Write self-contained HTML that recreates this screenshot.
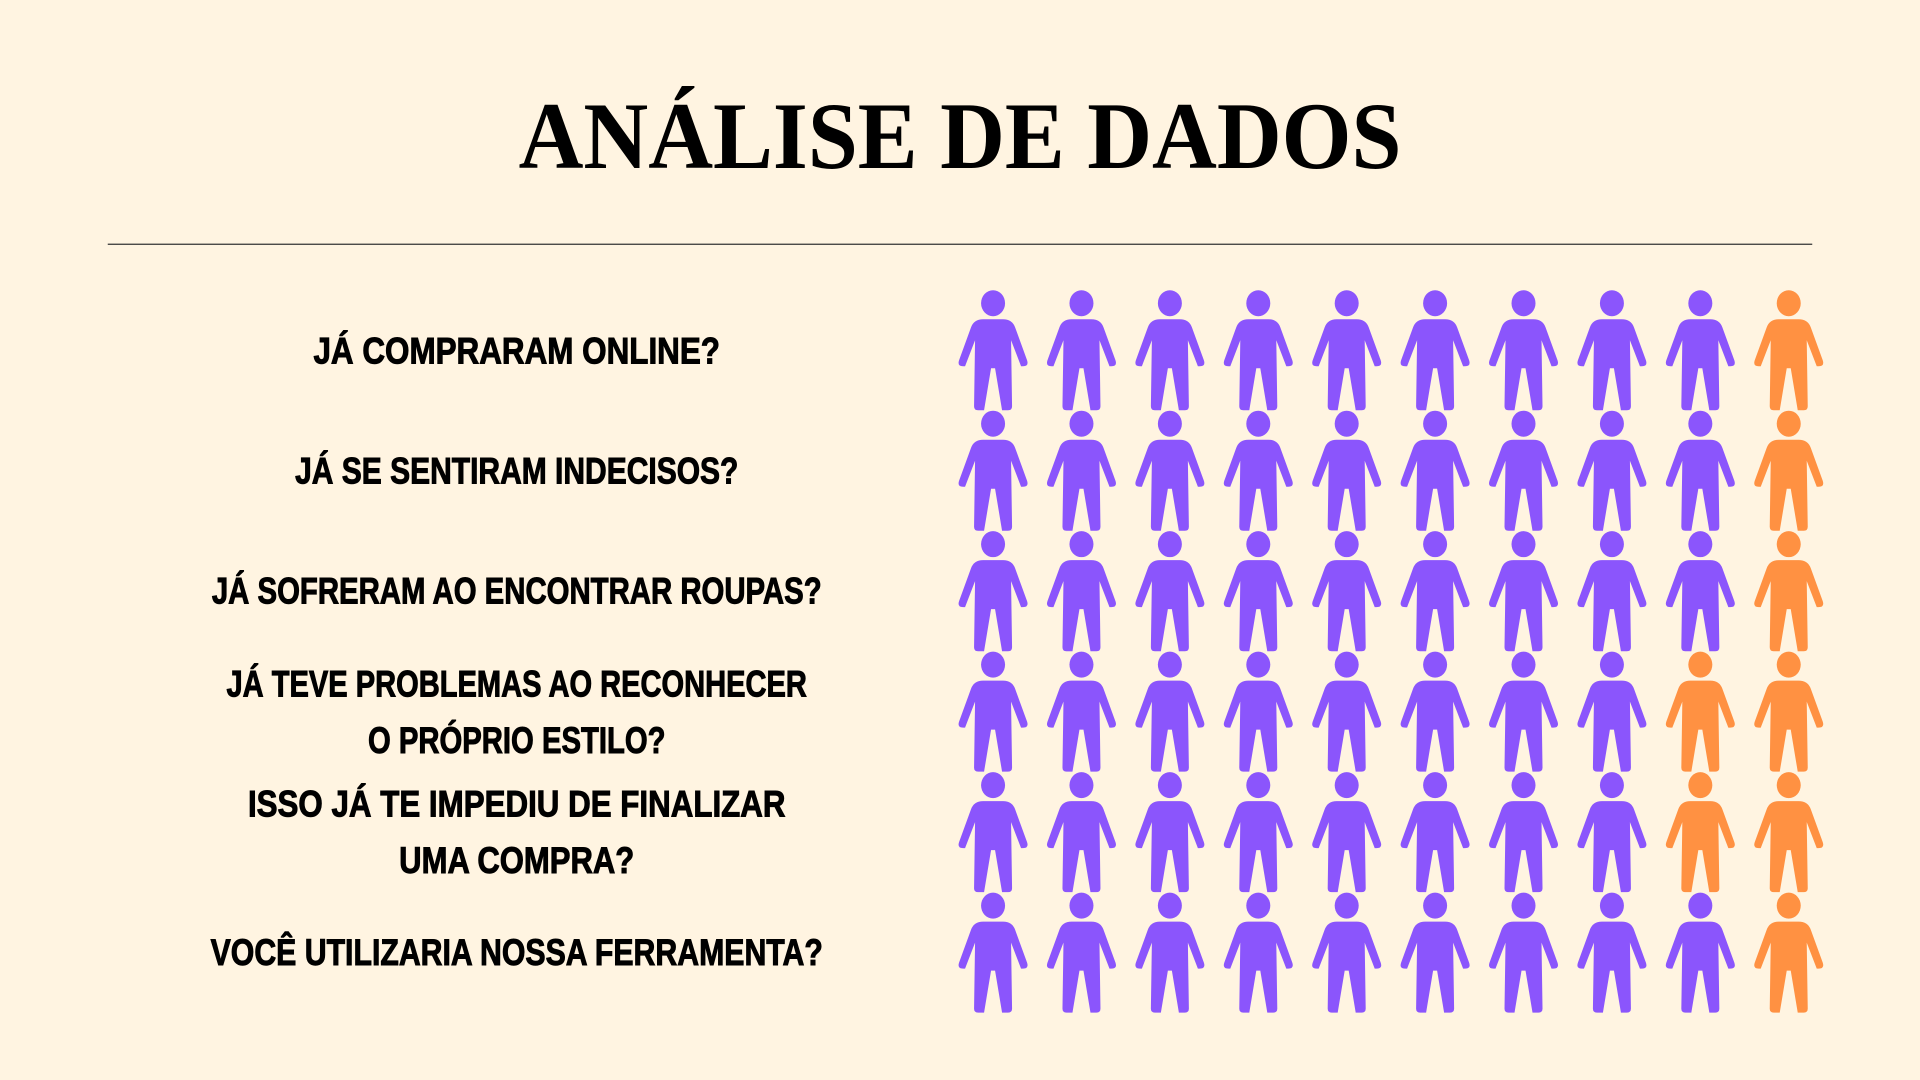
<!DOCTYPE html>
<html><head><meta charset="utf-8"><style>
html,body{margin:0;padding:0;background:#fff4e1;}
svg{display:block;}
</style></head><body>
<svg id="chart" width="1920" height="1080" viewBox="0 0 1568 882" preserveAspectRatio="none" xmlns="http://www.w3.org/2000/svg">
<rect width="1568" height="882" fill="#fff4e1"/>
<text x="784" y="137" text-anchor="middle" font-family="'Liberation Serif',serif" font-weight="bold" font-size="78" textLength="721" lengthAdjust="spacingAndGlyphs" fill="#000">ANÁLISE DE DADOS</text>
<line x1="88" y1="199.5" x2="1480" y2="199.5" stroke="#333" stroke-width="1"/>
<g id="labels" font-family="'Liberation Sans',sans-serif" font-weight="bold" font-size="30" fill="#000" stroke="#000" stroke-width="0.8"></g>
<g id="icons"></g>
</svg>
<script>
const questions = ["JÁ COMPRARAM ONLINE?","JÁ SE SENTIRAM INDECISOS?","JÁ SOFRERAM AO ENCONTRAR ROUPAS?","JÁ TEVE PROBLEMAS AO RECONHECER|O PRÓPRIO ESTILO?","ISSO JÁ TE IMPEDIU DE FINALIZAR|UMA COMPRA?","VOCÊ UTILIZARIA NOSSA FERRAMENTA?"];
const yesCounts = [9,9,9,8,8,9];
const totalIcons = 10;

const ns="http://www.w3.org/2000/svg";
const lab=document.getElementById('labels');
const icons=document.getElementById('icons');
const lineLayout=[[[286,332]],[[384,362]],[[482,498]],[[558,474],[604,243]],[[656,439],[702,192]],[[777,500]]];
const rowY=i=>237+i*98.4;
const colX=j=>811+j*72.2;
const bodyPath="M -10,29 H 10 Q 19,29 22,37 L 34,70 Q 36,76 30,76 H 28 L 18,50 L 19,116 Q 19,120 15,120 H 9 L 2,78 H -2 L -9,120 H -15 Q -19,120 -19,116 L -18,50 L -28,76 H -30 Q -36,76 -34,70 L -22,37 Q -19,29 -10,29 Z";
questions.forEach((q,i)=>{
  q.split('|').forEach((t,k)=>{
    const L=lineLayout[i][k]||[rowY(i)+49,400];
    const tx=document.createElementNS(ns,'text');
    
    
    tx.setAttribute('x',422);tx.setAttribute('y',L[0]+11);
    tx.setAttribute('text-anchor','middle');
    tx.setAttribute('textLength',L[1]);tx.setAttribute('lengthAdjust','spacingAndGlyphs');
    tx.textContent=t;lab.appendChild(tx);
  });
  for(let j=0;j<totalIcons;j++){
    const g=document.createElementNS(ns,'g');
    
    
    g.setAttribute('transform',`translate(${colX(j)},${rowY(i)}) scale(0.8167)`);
    g.setAttribute('fill', j<yesCounts[i]?'#8b55fc':'#ff9142');
    const h=document.createElementNS(ns,'ellipse');
    h.setAttribute('cx',0);h.setAttribute('cy',13);h.setAttribute('rx',12);h.setAttribute('ry',13);
    const b=document.createElementNS(ns,'path');b.setAttribute('d',bodyPath);
    g.appendChild(h);g.appendChild(b);icons.appendChild(g);
  }
});
</script>
</body></html>
